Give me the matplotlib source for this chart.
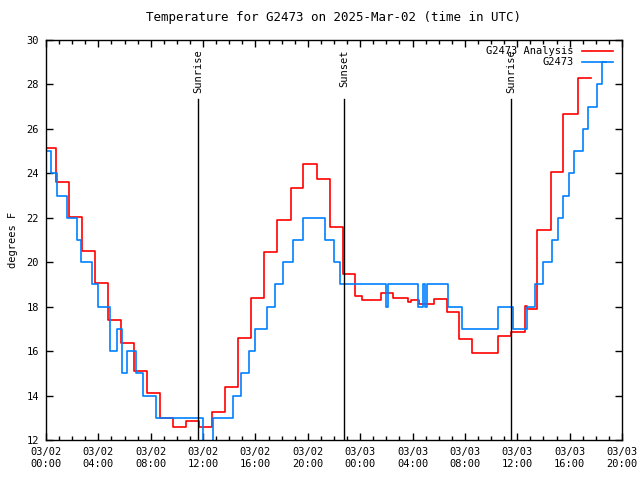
import matplotlib
matplotlib.use('Agg')
import matplotlib.pyplot as plt
from matplotlib.ticker import MultipleLocator

# hours since 2025-03-02 00:00 UTC, step starts
obs_hours = [0.08, 0.38, 0.84, 1.6, 2.33, 2.67, 3.5, 3.97, 4.89, 5.42, 5.81, 6.19,
             6.88, 7.41, 8.4, 12.0, 12.76, 14.29, 14.9, 15.5, 15.97, 16.9, 17.5,
             18.1, 18.87, 19.63, 21.3, 22.0, 22.46, 25.97, 26.13, 28.42, 28.8,
             28.95, 29.1, 30.7, 31.78, 34.53, 35.68, 36.75, 37.36, 37.97, 38.66,
             39.1, 39.5, 39.95, 40.34, 41.02, 41.41, 42.1, 42.48, 42.78]
obs_temp = [25, 24, 23, 22, 21, 20, 19, 18, 16, 17, 15, 16,
            15, 14, 13, 11.5, 13, 14, 15, 16, 17, 18, 19,
            20, 21, 22, 21, 20, 19, 18, 19, 18, 19,
            18, 19, 18, 17, 18, 17, 18, 19, 20, 21,
            22, 23, 24, 25, 26, 27, 28, 29, 29]

ana_hours = [0.08, 0.76, 1.76, 2.75, 3.74, 4.74, 5.73, 6.72, 7.72, 8.71, 9.7,
             10.7, 11.69, 12.68, 13.67, 14.67, 15.66, 16.65, 17.65, 18.72,
             19.63, 20.7, 21.7, 22.69, 23.61, 24.14, 25.59, 26.51, 27.65,
             27.88, 28.5, 29.64, 30.63, 31.55, 32.54, 34.53, 35.52, 36.59,
             36.75, 37.51, 38.58, 39.5, 40.64, 41.63]
ana_temp = [25.15, 23.6, 22.05, 20.5, 19.05, 17.4, 16.35, 15.1, 14.1, 13.0, 12.6,
            12.85, 12.6, 13.25, 14.4, 16.6, 18.4, 20.45, 21.9, 23.35,
            24.4, 23.75, 21.6, 19.45, 18.5, 18.3, 18.6, 18.4, 18.2,
            18.3, 18.1, 18.35, 17.75, 16.55, 15.9, 16.7, 16.85, 18.05,
            17.9, 21.45, 24.05, 26.65, 28.3, 28.3]

sun_hours = [11.64, 22.79, 35.55]
sun_labels = ['Sunrise', 'Sunset', 'Sunrise']

tick_hours = list(range(0, 45, 4))
tick_labels = ['03/02\n00:00', '03/02\n04:00', '03/02\n08:00', '03/02\n12:00',
               '03/02\n16:00', '03/02\n20:00', '03/03\n00:00', '03/03\n04:00',
               '03/03\n08:00', '03/03\n12:00', '03/03\n16:00', '03/03\n20:00']

plt.rcParams['font.family'] = 'DejaVu Sans Mono'
plt.rcParams['font.size'] = 7.5

fig = plt.figure(figsize=(6.4, 4.8), dpi=100)
ax = fig.add_axes([46 / 640, 40 / 480, 576 / 640, 400 / 480])

ax.step(ana_hours, ana_temp, where='post', color='#ff0000', lw=1.2,
        label='G2473 Analysis')
ax.step(obs_hours, obs_temp, where='post', color='#0080ff', lw=1.2,
        label='G2473')

for h, lab in zip(sun_hours, sun_labels):
    ax.plot([h, h], [0, 0.8525], color='black', lw=1.0,
            transform=ax.get_xaxis_transform())
    ax.text(h, 0.977, lab, rotation=90, ha='center', va='top',
            transform=ax.get_xaxis_transform())

ax.set_xlim(0, 44)
ax.set_ylim(12, 30)
ax.set_xticks(tick_hours)
ax.set_xticklabels(tick_labels)
ax.xaxis.set_minor_locator(MultipleLocator(1))
ax.set_yticks(range(12, 31, 2))
ax.tick_params(which='both', direction='in', top=True, right=True)
ax.tick_params(which='major', length=5, width=1, pad=5)
ax.tick_params(which='minor', length=3, width=1)
for s in ax.spines.values():
    s.set_linewidth(1.0)

ax.set_ylabel('degrees F', labelpad=6)
ax.set_title('Temperature for G2473 on 2025-Mar-02 (time in UTC)', pad=14)
ax.legend(loc='upper right', frameon=False, markerfirst=False,
          handlelength=3, borderaxespad=0.2, labelspacing=0.1,
          bbox_to_anchor=(0.995, 1.0))

fig.savefig('out.png', dpi=100)
